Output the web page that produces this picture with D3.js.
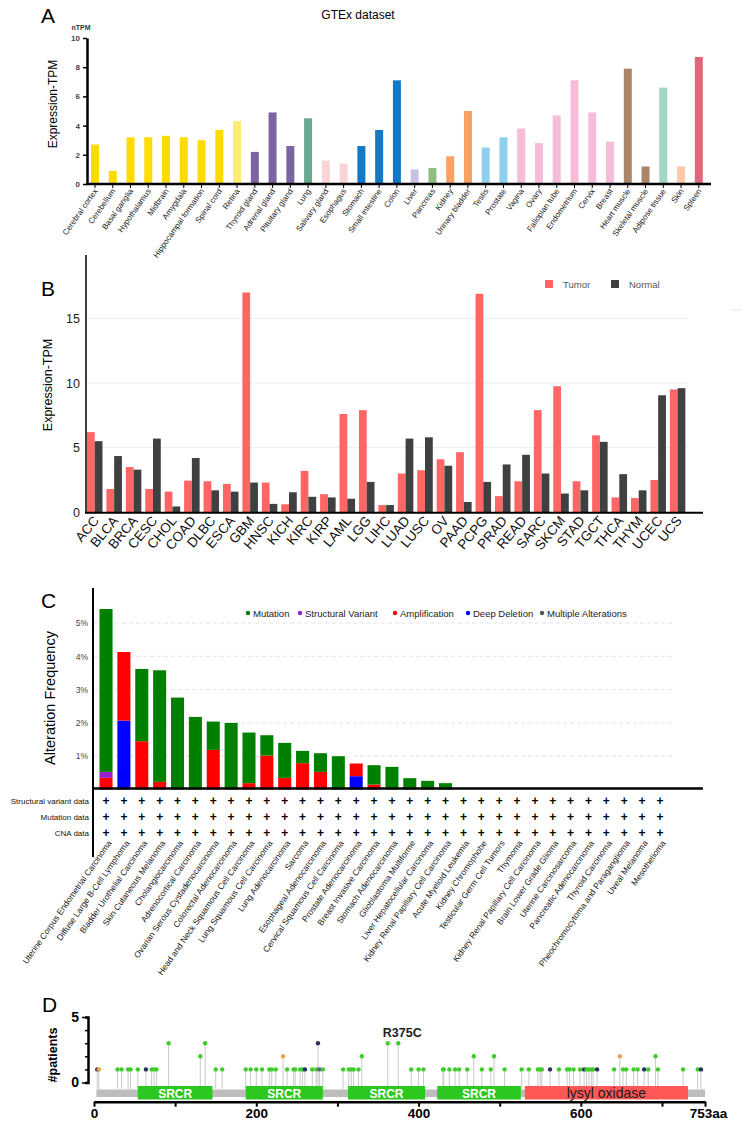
<!DOCTYPE html>
<html>
<head>
<meta charset="utf-8">
<script src="https://cdn.jsdelivr.net/npm/d3@7"></script>
<style>
body { margin: 0; background: #fff; }
svg { display: block; font-family: "Liberation Sans", Arial, sans-serif; }
</style>
</head>
<body>
<div id="chart"></div>
<script>
// ---- Panel A data (GTEx) ----
var tissues = ["Cerebral cortex", "Cerebellum", "Basal ganglia", "Hypothalamus", "Midbrain", "Amygdala",
	"Hippocampal formation", "Spinal cord", "Retina", "Thyroid gland", "Adrenal gland", "Pituitary gland",
	"Lung", "Salivary gland", "Esophagus", "Stomach", "Small intestine", "Colon", "Liver", "Pancreas",
	"Kidney", "Urinary bladder", "Testis", "Prostate", "Vagina", "Ovary", "Fallopian tube", "Endometrium",
	"Cervix", "Breast", "Heart muscle", "Skeletal muscle", "Adipose tissue", "Skin", "Spleen"];
var tissueTpm = [2.7, 0.9, 3.2, 3.2, 3.3, 3.2, 3.0, 3.7, 4.3, 2.2, 4.9, 2.6, 4.5, 1.6, 1.4, 2.6, 3.7, 7.1,
	1.0, 1.1, 1.9, 5.0, 2.5, 3.2, 3.8, 2.8, 4.7, 7.1, 4.9, 2.9, 7.9, 1.2, 6.6, 1.2, 8.7];
var tpmTicks = [0, 2, 4, 6, 8, 10];

// ---- Panel B data (TCGA tumor vs normal) ----
var cancersB = ["ACC", "BLCA", "BRCA", "CESC", "CHOL", "COAD", "DLBC", "ESCA", "GBM", "HNSC", "KICH", "KIRC",
	"KIRP", "LAML", "LGG", "LIHC", "LUAD", "LUSC", "OV", "PAAD", "PCPG", "PRAD", "READ", "SARC", "SKCM",
	"STAD", "TGCT", "THCA", "THYM", "UCEC", "UCS"];
var tumorTpm = [6.2, 1.8, 3.5, 1.8, 1.6, 2.45, 2.4, 2.2, 17.0, 2.3, 0.62, 3.2, 1.4, 7.6, 7.9, 0.56, 3.0, 3.25,
	4.1, 4.65, 16.9, 1.25, 2.4, 7.9, 9.75, 2.4, 5.95, 1.15, 1.1, 2.5, 9.5];
var normalTpm = [5.5, 4.35, 3.3, 5.7, 0.45, 4.2, 1.7, 1.6, 2.3, 0.65, 1.55, 1.2, 1.15, 1.05, 2.35, 0.56, 5.7,
	5.8, 3.6, 0.8, 2.35, 3.7, 4.45, 3.0, 1.45, 1.7, 5.45, 2.95, 1.7, 9.05, 9.6];
var tpmTicksB = [0, 5, 10, 15];
var seriesB = ["Tumor", "Normal"];

// ---- Panel C data (cBioPortal alteration frequency, %) ----
var cancersC = ["Uterine Corpus Endometrial Carcinoma", "Diffuse Large B-Cell Lymphoma",
	"Bladder Urothelial Carcinoma", "Skin Cutaneous Melanoma", "Cholangiocarcinoma", "Adrenocortical Carcinoma",
	"Ovarian Serous Cystadenocarcinoma", "Colorectal Adenocarcinoma", "Head and Neck Squamous Cell Carcinoma",
	"Lung Squamous Cell Carcinoma", "Lung Adenocarcinoma", "Sarcoma", "Esophageal Adenocarcinoma",
	"Cervical Squamous Cell Carcinoma", "Prostate Adenocarcinoma", "Breast Invasive Carcinoma",
	"Stomach Adenocarcinoma", "Glioblastoma Multiforme", "Liver Hepatocellular Carcinoma",
	"Kidney Renal Papillary Cell Carcinoma", "Acute Myeloid Leukemia", "Kidney Chromophobe",
	"Testicular Germ Cell Tumors", "Thymoma", "Kidney Renal Papillary Cell Carcinoma", "Brain Lower Grade Glioma",
	"Uterine Carcinosarcoma", "Pancreatic Adenocarcinoma", "Thyroid Carcinoma",
	"Pheochromocytoma and Paraganglioma", "Uveal Melanoma", "Mesothelioma"];
var cMutation = [4.89, 0, 2.17, 3.35, 2.76, 2.18, 0.85, 2.0, 1.52, 0.61, 1.05, 0.37, 0.56, 1.0, 0, 0.58, 0.68,
	0.34, 0.26, 0.19, 0, 0, 0, 0, 0, 0, 0, 0, 0, 0, 0, 0];
var cStructural = [0.18, 0, 0, 0, 0, 0, 0, 0, 0, 0, 0, 0, 0, 0, 0, 0, 0, 0, 0, 0, 0, 0, 0, 0, 0, 0, 0, 0, 0, 0, 0, 0];
var cAmplification = [0.35, 2.06, 1.45, 0.23, 0, 0, 1.19, 0, 0.19, 1.02, 0.35, 0.79, 0.53, 0, 0.38, 0.15, 0,
	0, 0, 0, 0, 0, 0, 0, 0, 0, 0, 0, 0, 0, 0, 0];
var cDeepDeletion = [0, 2.07, 0, 0, 0, 0, 0, 0, 0, 0, 0, 0, 0, 0, 0.4, 0, 0, 0, 0, 0, 0, 0, 0, 0, 0, 0, 0, 0, 0, 0, 0, 0];
var freqTicks = [1, 2, 3, 4, 5];
var dataRows = ["Structural variant data", "Mutation data", "CNA data"];
var legendC = ["Mutation", "Structural Variant", "Amplification", "Deep Deletion", "Multiple Alterations"];

// ---- Panel D data (lollipop, LOXL2 753 aa) ----
var domainNames = ["SRCR", "SRCR", "SRCR", "SRCR", "lysyl oxidase"];
var domainStart = [54, 187, 313, 423, 531];
var domainEnd = [146, 282, 408, 526, 732];
var proteinLength = 753;
var mutPos = [4, 6, 29, 34, 42, 45, 54, 64, 71, 74, 77, 92, 131, 137, 150, 158, 187, 193, 200, 207, 216, 219,
	224, 233, 238, 246, 248, 254, 257, 260, 269, 274, 276, 278, 282, 307, 314, 317, 320, 326, 330, 362, 375,
	391, 400, 406, 430, 431, 438, 445, 450, 460, 468, 478, 489, 493, 506, 527, 536, 547, 550, 552, 562, 573,
	583, 586, 591, 599, 604, 607, 610, 613, 615, 620, 641, 648, 652, 656, 665, 670, 678, 683, 692, 695, 726,
	744, 748];
var mutCount = [1, 1, 1, 1, 1, 1, 1, 1, 1, 1, 1, 3, 2, 3, 1, 1, 1, 1, 1, 1, 1, 1, 1, 2, 1, 1, 1, 1, 1, 1, 1, 1,
	3, 1, 1, 1, 1, 1, 1, 1, 2, 3, 3, 1, 1, 1, 1, 1, 1, 1, 1, 1, 2, 1, 1, 2, 1, 1, 1, 1, 1, 1, 1, 1, 1, 1, 1,
	1, 1, 1, 1, 1, 1, 1, 1, 2, 1, 1, 1, 1, 1, 1, 2, 1, 1, 1, 1];
// m = missense, t = truncating, o = inframe/other, p = fusion
var mutType = ["t", "o", "m", "m", "m", "m", "m", "t", "m", "m", "m", "m", "m", "m", "m", "m", "m", "m", "m",
	"m", "m", "m", "m", "o", "m", "m", "m", "m", "m", "t", "m", "m", "t", "p", "m", "m", "m", "m", "m", "m",
	"m", "m", "m", "m", "m", "m", "m", "m", "m", "m", "m", "m", "m", "m", "m", "m", "m", "m", "m", "m", "m",
	"m", "t", "m", "m", "m", "m", "m", "t", "m", "m", "m", "m", "t", "m", "o", "m", "m", "m", "m", "t", "m",
	"m", "m", "m", "m", "t"];
var patientTicks = [0, 1, 2, 3, 4, 5];
var aaTicks = [0, 100, 200, 300, 400, 500, 600, 700, 753];

// ---- colours ----
var tissueColor = {
	brain: "#ffdb00", retina: "#ffeb78", endocrine: "#7b64a1", lung: "#68a98f", salivary: "#fbd5d6",
	gut: "#1479c5", liver: "#c9c1e4", pancreas: "#8ebf82", kidney: "#f7a263", male: "#8fd0f1",
	female: "#f7bcd8", muscle: "#aa8569", adipose: "#9fd6c6", skin: "#fdc9ab", spleen: "#e0677b"
};
function colorOfTissue(i) {
	if (i < 8) return tissueColor.brain;
	if (i == 8) return tissueColor.retina;
	if (i < 12) return tissueColor.endocrine;
	if (i == 12) return tissueColor.lung;
	if (i < 15) return tissueColor.salivary;
	if (i < 18) return tissueColor.gut;
	if (i == 18) return tissueColor.liver;
	if (i == 19) return tissueColor.pancreas;
	if (i < 22) return tissueColor.kidney;
	if (i < 24) return tissueColor.male;
	if (i < 30) return tissueColor.female;
	if (i < 32) return tissueColor.muscle;
	if (i == 32) return tissueColor.adipose;
	if (i == 33) return tissueColor.skin;
	return tissueColor.spleen;
}
var colorB = {Tumor: "#fe6565", Normal: "#404040"};
var colorC = {mut: "#008000", sv: "#9b1fd0", amp: "#ff0000", deep: "#0000ff", multi: "#555555"};
var colorMut = {m: "#3fcc2c", t: "#2c2f5e", o: "#f0a050", p: "#7a4fa0"};

var svg = d3.select("#chart").append("svg")
	.attr("width", 742)
	.attr("height", 1124);

function panelLetter(t, x, y) {
	svg.append("text").attr("x", x).attr("y", y)
		.attr("font-size", 21).attr("fill", "#000").text(t);
}

//
// Panel A
//
panelLetter("A", 41, 23);
svg.append("text").attr("x", 358).attr("y", 19).attr("text-anchor", "middle")
	.attr("font-size", 12).text("GTEx dataset");
svg.append("text").attr("x", 81).attr("y", 30).attr("text-anchor", "middle")
	.attr("font-size", 7).attr("font-weight", "bold").attr("fill", "#333").text("nTPM");
svg.append("text").attr("transform", "translate(57,104) rotate(-90)").attr("text-anchor", "middle")
	.attr("font-size", 12).text("Expression-TPM");

var xA = d3.scaleBand().domain(tissues).range([86.1, 707.7]).paddingInner(0.55).paddingOuter(0.275);
var yA = d3.scaleLinear().domain([0, 10]).range([184, 38]);

svg.append("g").selectAll("rect").data(tissues).enter().append("rect")
	.attr("x", function(d) { return xA(d); })
	.attr("y", function(d, i) { return yA(tissueTpm[i]); })
	.attr("width", xA.bandwidth())
	.attr("height", function(d, i) { return yA(0) - yA(tissueTpm[i]); })
	.attr("fill", function(d, i) { return colorOfTissue(i); });

var axA = svg.append("g").attr("transform", "translate(87,0)")
	.call(d3.axisLeft(yA).tickValues(tpmTicks).tickSize(4).tickSizeOuter(0));
axA.select(".domain").attr("stroke-width", 2.5);
axA.selectAll(".tick line").attr("stroke-width", 1.5);
axA.selectAll(".tick text").attr("font-size", 8).attr("font-weight", "bold").attr("fill", "#3a4257")
	.attr("font-family", "Liberation Sans, Arial, sans-serif");

var axAx = svg.append("g").attr("transform", "translate(0,184)")
	.call(d3.axisBottom(xA).tickSize(4).tickSizeOuter(0).tickFormat(""));
axAx.select(".domain").attr("stroke-width", 2.5).attr("d", "M86,0H711");

svg.append("g").selectAll("text").data(tissues).enter().append("text")
	.attr("transform", function(d) { return "translate(" + (xA(d) + xA.bandwidth() / 2 + 3) + ",191) rotate(-55)"; })
	.attr("text-anchor", "end")
	.attr("font-size", 8)
	.attr("fill", "#222")
	.text(function(d) { return d; });

//
// Panel B
//
panelLetter("B", 41, 296);
svg.append("text").attr("transform", "translate(52,385) rotate(-90)").attr("text-anchor", "middle")
	.attr("font-size", 12.5).text("Expression-TPM");

var xB = d3.scaleBand().domain(cancersB).range([85, 687.3]).paddingInner(0.2).paddingOuter(0.1);
var xB2 = d3.scaleBand().domain(seriesB).range([0, xB.bandwidth()]);
var yB = d3.scaleLinear().domain([0, 20]).range([512.3, 253.7]);

svg.append("g").selectAll("line").data(tpmTicksB.slice(1)).enter().append("line")
	.attr("x1", 86).attr("x2", 688)
	.attr("y1", function(d) { return yB(d); })
	.attr("y2", function(d) { return yB(d); })
	.attr("stroke", "#ececec").attr("stroke-width", 1);

var groupsB = svg.append("g").selectAll("g").data(cancersB).enter().append("g")
	.attr("transform", function(d) { return "translate(" + xB(d) + ",0)"; });
groupsB.selectAll("rect")
	.data(function(d, i) { return [{s: "Tumor", v: tumorTpm[i]}, {s: "Normal", v: normalTpm[i]}]; })
	.enter().append("rect")
	.attr("x", function(d) { return xB2(d.s); })
	.attr("y", function(d) { return yB(d.v); })
	.attr("width", xB2.bandwidth())
	.attr("height", function(d) { return yB(0) - yB(d.v); })
	.attr("fill", function(d) { return colorB[d.s]; });

var axB = svg.append("g").attr("transform", "translate(86,0)")
	.call(d3.axisLeft(yB).tickValues(tpmTicksB).tickSize(0).tickPadding(6).tickSizeOuter(0));
axB.select(".domain").attr("stroke-width", 1.5).attr("d", "M0,255V512.3");
axB.selectAll(".tick text").attr("font-size", 12.5).attr("fill", "#222")
	.attr("font-family", "Liberation Sans, Arial, sans-serif");

svg.append("line").attr("x1", 85).attr("x2", 703).attr("y1", 512.8).attr("y2", 512.8)
	.attr("stroke", "#000").attr("stroke-width", 2);

svg.append("g").selectAll("text").data(cancersB).enter().append("text")
	.attr("transform", function(d) { return "translate(" + (xB(d) + xB.bandwidth() / 2 + 5) + ",521) rotate(-50)"; })
	.attr("text-anchor", "end")
	.attr("font-size", 13.5)
	.attr("fill", "#111")
	.text(function(d) { return d; });

var legB = svg.append("g").selectAll("g").data(seriesB).enter().append("g")
	.attr("transform", function(d, i) { return "translate(" + (545 + i * 66) + ",280)"; });
legB.append("rect").attr("width", 8).attr("height", 8).attr("fill", function(d) { return colorB[d]; });
legB.append("text").attr("x", 18).attr("y", 7.5).attr("font-size", 9.5).attr("fill", "#555")
	.text(function(d) { return d; });
svg.append("line").attr("x1", 731).attr("x2", 742).attr("y1", 310).attr("y2", 310)
	.attr("stroke", "#e6e6e6");

//
// Panel C
//
panelLetter("C", 41, 608);
svg.append("text").attr("transform", "translate(55,698) rotate(-90)").attr("text-anchor", "middle")
	.attr("font-size", 14.5).text("Alteration Frequency");

var idxC = d3.range(cancersC.length);
var xC = d3.scaleBand().domain(idxC).range([97.1, 668.9]).paddingInner(0.27).paddingOuter(0.135);
var yC = d3.scaleLinear().domain([0, 6]).range([789.5, 589.7]);

svg.append("g").selectAll("line").data(freqTicks).enter().append("line")
	.attr("x1", 94).attr("x2", 672)
	.attr("y1", function(d) { return yC(d); })
	.attr("y2", function(d) { return yC(d); })
	.attr("stroke", "#e4e4e4").attr("stroke-dasharray", "4,3");

var rowsC = idxC.map(function(i) {
	return {i: i, deep: cDeepDeletion[i], amp: cAmplification[i], sv: cStructural[i], mut: cMutation[i]};
});
var stackC = d3.stack().keys(["deep", "amp", "sv", "mut"])(rowsC);

svg.append("g").selectAll("g").data(stackC).enter().append("g")
	.attr("fill", function(d) { return colorC[d.key]; })
	.selectAll("rect").data(function(d) { return d; }).enter().append("rect")
	.attr("x", function(d) { return xC(d.data.i); })
	.attr("y", function(d) { return yC(d[1]); })
	.attr("width", xC.bandwidth())
	.attr("height", function(d) { return yC(d[0]) - yC(d[1]); });

var axC = svg.append("g").attr("transform", "translate(93,0)")
	.call(d3.axisLeft(yC).tickValues(freqTicks).tickSize(0).tickPadding(5).tickSizeOuter(0)
		.tickFormat(function(d) { return d + "%"; }));
axC.select(".domain").attr("stroke-width", 2).attr("d", "M0,588V857");
axC.selectAll(".tick text").attr("font-size", 8.5).attr("fill", "#444")
	.attr("font-family", "Liberation Sans, Arial, sans-serif");

svg.append("line").attr("x1", 92).attr("x2", 703).attr("y1", 788.5).attr("y2", 788.5)
	.attr("stroke", "#000").attr("stroke-width", 2.5);

var legC = svg.append("g").selectAll("g").data(legendC).enter().append("g")
	.attr("transform", function(d, i) { return "translate(" + [248, 300, 395, 468, 542][i] + ",613)"; });
legC.append("circle").attr("r", 2.2)
	.attr("fill", function(d, i) { return [colorC.mut, colorC.sv, colorC.amp, colorC.deep, colorC.multi][i]; });
legC.append("text").attr("x", 5).attr("y", 3.5).attr("font-size", 9.5).attr("fill", "#222")
	.text(function(d) { return d; });

var rowY = [801, 817, 832.5];
svg.append("g").selectAll("text").data(dataRows).enter().append("text")
	.attr("x", 89).attr("y", function(d, i) { return rowY[i] + 3; })
	.attr("text-anchor", "end").attr("font-size", 8).attr("fill", "#111")
	.text(function(d) { return d; });

dataRows.forEach(function(r, k) {
	svg.append("g").selectAll("text").data(idxC).enter().append("text")
		.attr("x", function(d) { return xC(d) + xC.bandwidth() / 2; })
		.attr("y", rowY[k] + 4)
		.attr("text-anchor", "middle").attr("font-size", 12).attr("font-weight", "bold")
		.text("+");
});

svg.append("g").selectAll("text").data(idxC).enter().append("text")
	.attr("transform", function(d) { return "translate(" + (xC(d) + xC.bandwidth() / 2 + 6) + ",843) rotate(-55)"; })
	.attr("text-anchor", "end")
	.attr("font-size", 8.5)
	.attr("fill", "#222")
	.text(function(d) { return cancersC[d]; });

//
// Panel D
//
panelLetter("D", 42, 1012);
svg.append("text").attr("transform", "translate(57,1055) rotate(-90)").attr("text-anchor", "middle")
	.attr("font-size", 12.5).attr("font-weight", "bold").text("#patients");

var xD = d3.scaleLinear().domain([0, proteinLength]).range([94, 705]);
var yD = d3.scaleLinear().domain([0, 5]).range([1082.5, 1017]);

// backbone
svg.append("rect").attr("x", xD(3)).attr("y", 1089.5)
	.attr("width", xD(proteinLength) - xD(3)).attr("height", 7.5).attr("fill", "#bdbdbb");

// stems then heads
var lolly = svg.append("g");
lolly.selectAll("line").data(mutPos).enter().append("line")
	.attr("x1", function(d) { return xD(d); })
	.attr("x2", function(d) { return xD(d); })
	.attr("y1", 1089)
	.attr("y2", function(d, i) { return yD(mutCount[i]); })
	.attr("stroke", "#c9c9c9").attr("stroke-width", 1);

var domG = svg.append("g").selectAll("g").data(domainNames).enter().append("g");
domG.append("rect")
	.attr("x", function(d, i) { return xD(domainStart[i]); })
	.attr("y", 1086)
	.attr("width", function(d, i) { return xD(domainEnd[i]) - xD(domainStart[i]); })
	.attr("height", 13.5)
	.attr("fill", function(d) { return d == "SRCR" ? "#2dc81f" : "#ff5656"; });
domG.append("text")
	.attr("x", function(d, i) { return (xD(domainStart[i]) + xD(domainEnd[i])) / 2; })
	.attr("y", 1097.5)
	.attr("text-anchor", "middle")
	.attr("font-size", function(d) { return d == "SRCR" ? 12 : 14; })
	.attr("font-weight", function(d) { return d == "SRCR" ? "bold" : "normal"; })
	.attr("fill", function(d) { return d == "SRCR" ? "#fff" : "#1a1a1a"; })
	.text(function(d) { return d; });

lolly.selectAll("circle").data(mutPos).enter().append("circle")
	.attr("cx", function(d) { return xD(d); })
	.attr("cy", function(d, i) { return yD(mutCount[i]); })
	.attr("r", 2.2)
	.attr("fill", function(d, i) { return colorMut[mutType[i]]; });

svg.append("text").attr("x", xD(375) + 4).attr("y", 1037).attr("text-anchor", "middle")
	.attr("font-size", 12.5).attr("font-weight", "bold").attr("fill", "#222").text("R375C");

var axD = svg.append("g").attr("transform", "translate(88,0)")
	.call(d3.axisLeft(yD).tickValues(patientTicks).tickSizeOuter(0)
		.tickSize(3).tickFormat(function(d) { return (d == 0 || d == 5) ? d : ""; }));
axD.select(".domain").attr("stroke-width", 2.5);
axD.selectAll(".tick line").attr("stroke-width", 1.5)
	.attr("x2", function(d) { return (d == 0 || d == 5) ? -6 : -3; });
axD.selectAll(".tick text").attr("font-size", 14).attr("font-weight", "bold").attr("x", -9)
	.attr("font-family", "Liberation Sans, Arial, sans-serif");

var axDx = svg.append("g").attr("transform", "translate(0,1101.7)")
	.call(d3.axisBottom(xD).tickValues(aaTicks).tickSize(5).tickPadding(2).tickSizeOuter(0)
		.tickFormat(function(d) {
			if (d == proteinLength) return d + "aa";
			return d % 200 == 0 ? d : "";
		}));
axDx.select(".domain").attr("stroke-width", 2.5);
axDx.selectAll(".tick line").attr("stroke-width", 2);
axDx.selectAll(".tick text").attr("font-size", 13.5).attr("font-weight", "bold").attr("dy", "0.72em")
	.attr("font-family", "Liberation Sans, Arial, sans-serif");
axDx.selectAll(".tick text").filter(function(d) { return d == proteinLength; }).attr("dx", 3);
</script>
</body>
</html>
